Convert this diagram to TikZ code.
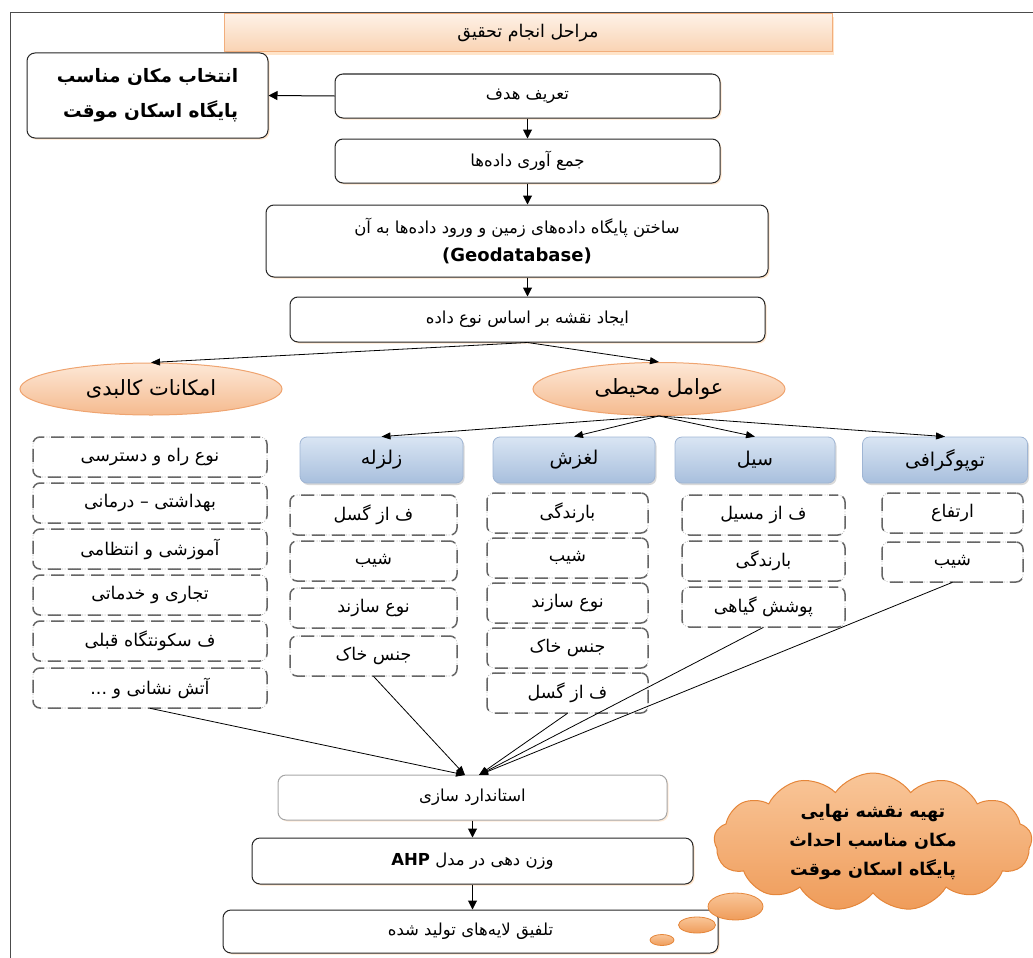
\documentclass[tikz,border=0pt]{standalone}
\usepackage{fontspec}
\usetikzlibrary{shapes.geometric,shapes.symbols,shadows,arrows.meta}
\newfontfamily\fa[Script=Arabic]{DejaVu Sans}
\newfontfamily\lat{DejaVu Sans}
\TeXXeTstate=1
\newcommand{\fat}[1]{{\fa\beginR #1\endR}}
\definecolor{ttltop}{HTML}{FEF1E6}
\definecolor{ttlbot}{HTML}{F9D3B3}
\definecolor{ttldraw}{HTML}{F2AE7C}
\definecolor{elltop}{HTML}{FDE8D7}
\definecolor{ellbot}{HTML}{F5BA8E}
\definecolor{elldraw}{HTML}{EFA470}
\definecolor{bluetop}{HTML}{D9E5F3}
\definecolor{bluebot}{HTML}{A8BFDD}
\definecolor{bluedraw}{HTML}{9FB5D4}
\definecolor{cldtop}{HTML}{F9C699}
\definecolor{cldbot}{HTML}{EF9C5A}
\definecolor{clddraw}{HTML}{E5863A}
\begin{document}
\begin{tikzpicture}[x=1pt,y=-1pt,
  every node/.style={font=\fa\fontsize{16.5}{20}\selectfont, inner sep=0pt},
  box/.style={draw=black!85, line width=1pt, rounded corners=8pt, fill=white,
    drop shadow={opacity=0.35, shadow xshift=1.5pt, shadow yshift=-1.5pt, fill=orange!60}},
  lbox/.style={draw=gray!70, line width=1pt, rounded corners=8pt, fill=white,
    drop shadow={opacity=0.3, shadow xshift=1.5pt, shadow yshift=-1.5pt, fill=orange!50}},
  titlebar/.style={draw=ttldraw, line width=1pt, top color=ttltop, bottom color=ttlbot,
    font=\fa\fontsize{17.5}{20}\selectfont,
    drop shadow={opacity=0.3, shadow xshift=2pt, shadow yshift=-3pt, fill=orange!70}},
  oval/.style={ellipse, draw=elldraw, line width=1pt, top color=elltop, bottom color=ellbot,
    font=\fa\fontsize{21}{24}\selectfont},
  bluebox/.style={draw=bluedraw, line width=0.8pt, rounded corners=7pt, top color=bluetop, bottom color=bluebot,
    minimum height=46pt, font=\fa\fontsize{19}{22}\selectfont,
    drop shadow={opacity=0.3, shadow xshift=1.5pt, shadow yshift=-2pt}},
  dbox/.style={rounded corners=7pt, draw=gray!60, line width=0.6pt, dash pattern=on 1pt off 1.5pt, fill=white,
    minimum height=40pt, font=\fa\fontsize{17.5}{20}\selectfont,
    postaction={draw=black!60, line width=1.5pt, dash pattern=on 13pt off 7pt, dash phase=4pt}},
  arr/.style={-{Triangle[length=9pt,width=9pt]}, line width=1pt, black},
  tarr/.style={-{Triangle[length=9pt,width=7pt]}, line width=0.8pt, black},
  bubble/.style={ellipse, draw=clddraw, line width=0.8pt, top color=cldtop, bottom color=cldbot},
  cloudbox/.style={cloud, cloud puffs=13, cloud puff arc=110, aspect=2.3, draw=clddraw, line width=1pt,
    top color=cldtop, bottom color=cldbot, align=center,
    font=\fa\bfseries\fontsize{17.5}{29}\selectfont}
  ]
\useasboundingbox (0,0) rectangle (1033,958);
% frame
\draw[gray!60!black, line width=0.8pt] (10,958) -- (10,12) -- (1033,12);

% top chain
\node[titlebar, minimum width=608pt, minimum height=38pt] (title) at (528,33) {\fat{مراحل انجام تحقیق}};
\node[box, minimum width=241pt, minimum height=85pt, align=right,
  font=\fa\bfseries\fontsize{18.5}{35}\selectfont] (choose) at (147.5,95.5)
  {\fat{انتخاب مکان مناسب}\\\fat{پایگاه اسکان موقت}};
\node[box, minimum width=385pt, minimum height=44pt] (goal) at (527.5,96) {\fat{تعریف هدف}};
\node[box, minimum width=385pt, minimum height=44pt] (collect) at (527.5,161) {\fat{جمع آوری داده‌ها}};
\node[box, minimum width=502pt, minimum height=72pt, align=center, font=\fa\fontsize{16.5}{28}\selectfont] (geodb) at (517,241)
  {\fat{ساختن پایگاه داده‌های زمین و ورود داده‌ها به آن}\\{\lat\bfseries\fontsize{18}{28}\selectfont(Geodatabase)}};
\node[box, minimum width=475pt, minimum height=45pt] (mapbox) at (527.5,319.5) {\fat{ایجاد نقشه بر اساس نوع داده}};

% ellipses
\node[oval, minimum width=262pt, minimum height=52pt] (kalbadi) at (151,389) {\fat{امکانات کالبدی}};
\node[oval, minimum width=252pt, minimum height=53pt] (mohiti) at (659,389) {\fat{عوامل محیطی}};

% blue boxes
\node[bluebox, minimum width=163pt] (zel) at (381.5,460) {\fat{زلزله}};
\node[bluebox, minimum width=162pt] (lag) at (574,460) {\fat{لغزش}};
\node[bluebox, minimum width=160pt] (seil) at (755,460) {\fat{سیل}};
\node[bluebox, minimum width=165pt] (topo) at (945,460) {\fat{توپوگرافی}};

% left column
\node[dbox, minimum width=234pt] (k1) at (150,457) {\fat{نوع راه و دسترسی}};
\node[dbox, minimum width=234pt] (k2) at (150,503) {\fat{بهداشتی – درمانی}};
\node[dbox, minimum width=234pt] (k3) at (150,549) {\fat{آموزشی و انتظامی}};
\node[dbox, minimum width=234pt] (k4) at (150,595) {\fat{تجاری و خدماتی}};
\node[dbox, minimum width=234pt] (k5) at (150,641) {\fat{ف سکونتگاه قبلی}};
\node[dbox, minimum width=234pt] (k6) at (150,688) {\fat{آتش نشانی و ...}};

% zelzeleh column
\node[dbox, minimum width=167pt] (z1) at (373.5,515) {\fat{ف از گسل}};
\node[dbox, minimum width=167pt] (z2) at (373.5,561) {\fat{شیب}};
\node[dbox, minimum width=167pt] (z3) at (373.5,608) {\fat{نوع سازند}};
\node[dbox, minimum width=167pt] (z4) at (373.5,656) {\fat{جنس خاک}};

% laghzesh column
\node[dbox, minimum width=161pt] (l1) at (567.5,513) {\fat{بارندگی}};
\node[dbox, minimum width=161pt] (l2) at (567.5,558) {\fat{شیب}};
\node[dbox, minimum width=161pt] (l3) at (567.5,603) {\fat{نوع سازند}};
\node[dbox, minimum width=161pt] (l4) at (567.5,648) {\fat{جنس خاک}};
\node[dbox, minimum width=161pt] (l5) at (567.5,693) {\fat{ف از گسل}};

% seil column
\node[dbox, minimum width=163pt] (s1) at (763.5,515) {\fat{ف از مسیل}};
\node[dbox, minimum width=163pt] (s2) at (763.5,561) {\fat{بارندگی}};
\node[dbox, minimum width=163pt] (s3) at (763.5,607) {\fat{پوشش گیاهی}};

% topo column
\node[dbox, minimum width=141pt] (t1) at (952.5,513) {\fat{ارتفاع}};
\node[dbox, minimum width=141pt] (t2) at (952.5,562) {\fat{شیب}};

% bottom chain
\node[lbox, minimum width=389pt, minimum height=45pt] (std) at (472.5,797.5) {\fat{استاندارد سازی}};
\node[box, minimum width=441pt, minimum height=46pt] (ahp) at (472.5,861)
  {\fat{وزن دهی در مدل \beginL{\lat\bfseries AHP}\endL}};
\node[box, minimum width=495pt, minimum height=43pt] (final) at (470.5,931.5) {\fat{تلفیق لایه‌های تولید شده}};

% cloud
\node[cloudbox, minimum width=318pt, minimum height=138pt] (cld) at (873,842)
  {\fat{تهیه نقشه نهایی}\\\fat{مکان مناسب احداث}\\\fat{پایگاه اسکان موقت}};
\node[bubble, minimum width=55pt, minimum height=27pt] (b1) at (735.5,906.5) {};
\node[bubble, minimum width=37pt, minimum height=16pt] (b2) at (697,925) {};
\node[bubble, minimum width=24pt, minimum height=11pt] (b3) at (662,940) {};

\coordinate (inL) at (465,775);
\coordinate (inR) at (479,775);

% connectors
\draw[arr] (goal.west) -- (choose.east);
\draw[arr] (goal.south) -- (goal.south |- collect.north);
\draw[arr] (collect.south) -- (collect.south |- geodb.north);
\draw[arr] (collect.south |- geodb.south) -- (collect.south |- mapbox.north);
\draw[tarr] (mapbox.south) -- (kalbadi.north);
\draw[tarr] (mapbox.south) -- (mohiti.north);
\draw[tarr] (mohiti.south) -- (zel.north);
\draw[tarr] (mohiti.south) -- (lag.north);
\draw[tarr] (mohiti.south) -- (seil.north);
\draw[tarr] (mohiti.south) -- (topo.north);
\draw[tarr] (k6.south) -- (inL);
\draw[tarr] (z4.south) -- (inL);
\draw[tarr] (l5.south) -- (inR);
\draw[tarr] (s3.south) -- (inR);
\draw[tarr] (t2.south) -- (inR);
\draw[arr] (std.south) -- (std.south |- ahp.north);
\draw[arr] (ahp.south) -- (ahp.south |- final.north);
\end{tikzpicture}
\end{document}
